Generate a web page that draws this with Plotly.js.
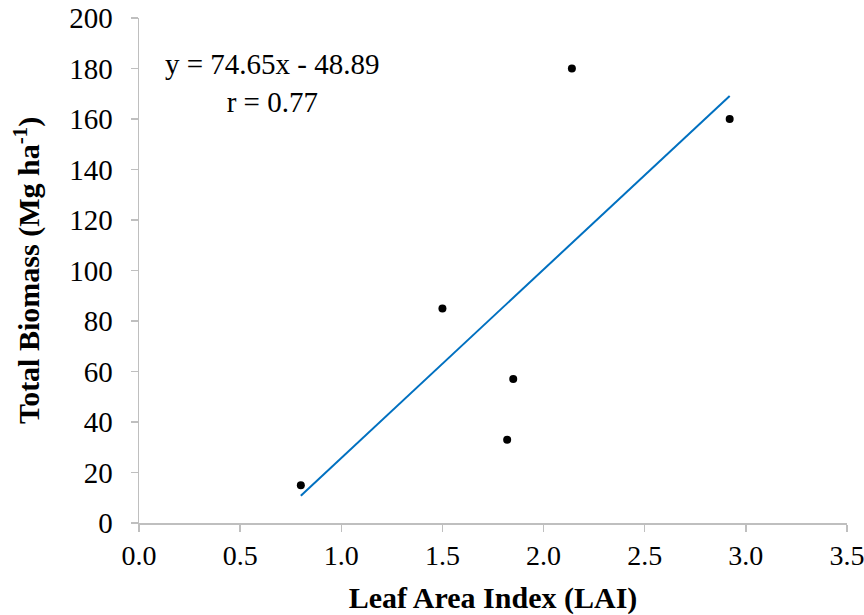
<!DOCTYPE html>
<html>
<head>
<meta charset="utf-8">
<script src="https://cdn.plot.ly/plotly-3.0.1.min.js"></script>
<style>
  html, body { margin: 0; padding: 0; background: #fff; }
  #chart { width: 864px; height: 615px; }
</style>
</head>
<body>
<div id="chart"></div>
<script>
// Leaf area index vs. total biomass observations
const lai = [0.80, 1.50, 1.82, 1.85, 2.14, 2.92];
const biomass = [15, 85, 33, 57, 180, 160];

// Linear fit reported on the chart
const slope = 74.65;
const intercept = -48.89;
const rValue = 0.77;

const fitX = [Math.min(...lai), Math.max(...lai)];
const fitY = fitX.map(x => slope * x + intercept);

const serif = 'Liberation Serif';

const traces = [
  {
    x: lai, y: biomass,
    type: 'scatter', mode: 'markers',
    marker: { color: '#000000', size: 8 }
  },
  {
    x: fitX, y: fitY,
    type: 'scatter', mode: 'lines',
    line: { color: '#0070C0', width: 2 }
  }
];

const layout = {
  width: 864, height: 615,
  showlegend: false,
  margin: { l: 139, r: 17, t: 18, b: 92 },
  xaxis: {
    range: [0, 3.5], dtick: 0.5, tickformat: '.1f',
    showgrid: false, zeroline: false,
    showline: true, linecolor: '#BFBFBF', linewidth: 1.5,
    ticks: 'outside', tickcolor: '#BFBFBF', ticklen: 7, tickwidth: 1.5,
    ticklabeloverflow: 'allow',
    tickfont: { family: serif, size: 28, color: '#000000' },
    title: { text: '<b>Leaf Area Index (LAI)</b>', font: { family: serif, size: 30, color: '#000000' } }
  },
  yaxis: {
    range: [0, 200], dtick: 20,
    showgrid: false, zeroline: false,
    showline: true, linecolor: '#BFBFBF', linewidth: 1.5,
    ticks: 'outside', tickcolor: '#BFBFBF', ticklen: 7, tickwidth: 1.5,
    ticklabelstandoff: 12,
    tickfont: { family: serif, size: 29, color: '#000000' },
    automargin: 'left',
    title: { text: '<b>Total Biomass (Mg ha<sup>-1</sup>)</b>', font: { family: serif, size: 30, color: '#000000' }, standoff: 20 }
  },
  annotations: [{
    xref: 'paper', yref: 'paper',
    x: (272 - 139) / 708, y: (523 - 83) / 505,
    xanchor: 'center', yanchor: 'middle', align: 'center',
    showarrow: false,
    text: 'y = ' + slope.toFixed(2) + 'x - ' + Math.abs(intercept).toFixed(2) + '<br>r = ' + rValue.toFixed(2),
    font: { family: serif, size: 29, color: '#000000' }
  }]
};

Plotly.newPlot('chart', traces, layout, { staticPlot: true });
</script>
</body>
</html>
